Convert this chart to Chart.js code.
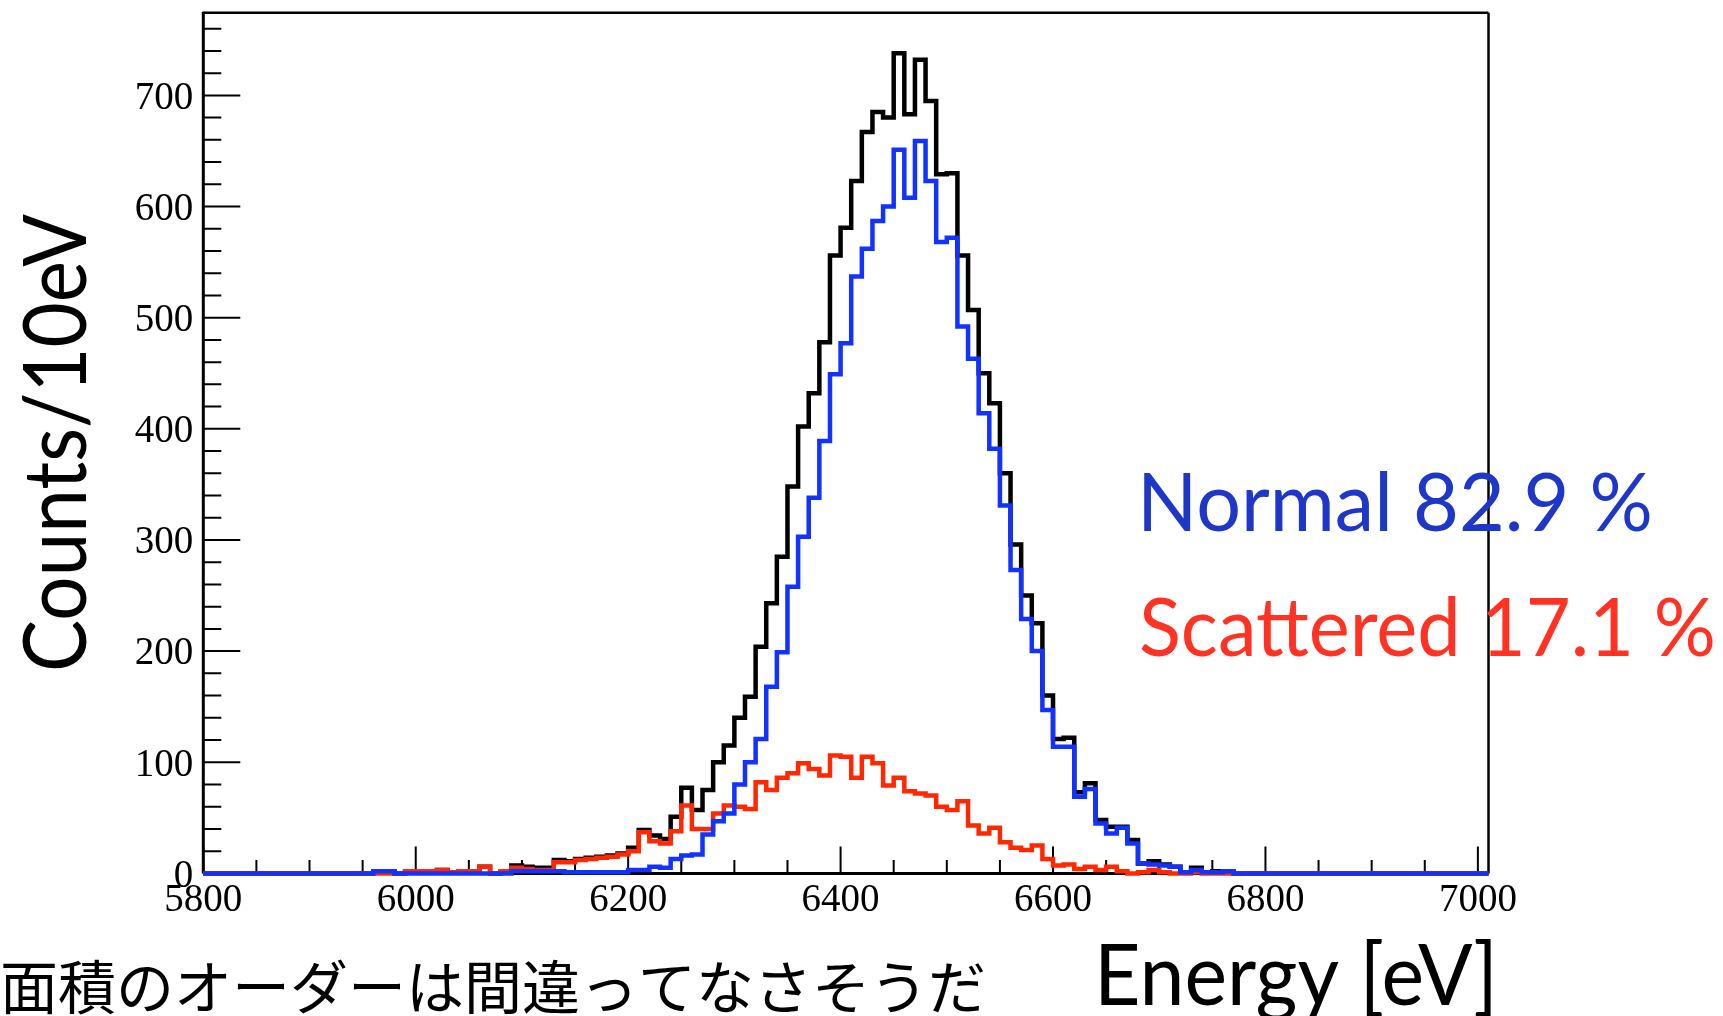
<!DOCTYPE html>
<html><head><meta charset="utf-8">
<script src="https://cdn.jsdelivr.net/npm/chart.js@4.4.1/dist/chart.umd.min.js"></script>
<style>html,body{margin:0;padding:0;background:#fff;overflow:hidden}canvas{display:block}</style>
</head><body>
<canvas id="c" width="1723" height="1016"></canvas>
<script>
// ---- data (10 eV bins starting at 5800 eV) ----
const binStart = 5800;
const binWidth = 10;
const totalCounts = [
  0,0,0,0,0,0,0,0,0,0,
  0,0,0,0,0,0,2,2,0,2,
  2,2,3,1,2,2,6,0,2,7,
  6,5,5,12,11,13,14,15,16,18,
  23,39,34,31,51,77,57,75,100,115,
  140,159,204,243,285,348,402,432,478,556,
  581,623,667,685,680,738,683,732,695,629,
  630,556,507,450,423,360,296,250,225,160,
  121,122,73,81,48,42,42,30,9,11,
  8,6,1,5,1,2,2,0,0,0,
  0,0,0,0,0,0,0,0,0,0,
  0,0,0,0,0,0,0,0,0,0,
  0
];
const normalCounts = [
  0,0,0,0,0,0,0,0,0,0,
  0,0,0,0,0,0,2,2,0,0,
  0,0,0,0,0,0,0,0,0,2,
  2,2,2,2,1,1,1,1,1,1,
  3,3,6,5,13,16,17,35,47,54,
  80,100,121,168,199,258,303,338,389,449,
  477,537,562,587,600,651,608,659,623,568,
  572,492,463,414,382,331,273,229,200,147,
  114,114,69,76,45,36,41,27,9,8,
  7,6,1,3,1,1,2,0,0,0,
  0,0,0,0,0,0,0,0,0,0,
  0,0,0,0,0,0,0,0,0,0,
  0
];
const scatteredCounts = [
  0,0,0,0,0,0,0,0,0,0,
  0,0,0,0,0,0,0,0,0,2,
  2,2,3,1,2,2,6,0,2,5,
  4,3,3,10,10,12,13,14,15,17,
  20,37,29,27,38,61,40,40,54,61,
  60,58,82,75,86,90,99,94,88,106,
  105,86,105,99,79,86,74,72,70,60,
  57,65,43,36,41,28,23,21,25,13,
  7,8,4,6,3,6,2,0,1,3,
  1,0,0,1,0,0,0,0,0,0,
  0,0,0,0,0,0,0,0,0,0,
  0,0,0,0,0,0,0,0,0,0,
  0
];
const xTickValues = [5800, 6000, 6200, 6400, 6600, 6800, 7000];
const yTickValues = [0, 100, 200, 300, 400, 500, 600, 700];
const legendLabels = ['Normal 82.9 %', 'Scattered 17.1 %'];
const xTitle = 'Energy [eV]';
const yTitle = 'Counts/10eV';
const noteText = '面積のオーダーは間違ってなさそうだ';

// ---- histogram outline points (bin low edges + closing edge) ----
function toSteps(vals) {
  const pts = vals.map((v, i) => ({ x: binStart + i * binWidth, y: v }));
  pts.push({ x: binStart + vals.length * binWidth, y: vals[vals.length - 1] });
  return pts;
}

const AREA = { left: 203.3, top: 12.7, right: 1488.5, bottom: 873.4 };
const W = 1723, H = 1016;

const framePlugin = {
  id: 'framePlugin',
  beforeDatasetsDraw(chart) {
    const { ctx, chartArea: a, scales: { x, y } } = chart;
    ctx.save();
    ctx.strokeStyle = '#000';
    ctx.lineCap = 'butt';
    ctx.lineWidth = 2;
    ctx.beginPath();
    for (let v = 0; v <= y.max; v += 20) {
      const py = y.getPixelForValue(v);
      const len = (v % 100 === 0) ? 37 : 18;
      ctx.moveTo(a.left, py); ctx.lineTo(a.left + len, py);
    }
    for (let v = binStart; v <= x.max; v += 50) {
      const px = x.getPixelForValue(v);
      const len = (v % 200 === 0) ? 27 : 13.5;
      ctx.moveTo(px, a.bottom); ctx.lineTo(px, a.bottom - len);
    }
    ctx.stroke();
    ctx.lineWidth = 2.5;
    ctx.beginPath();
    ctx.moveTo(a.left, a.top); ctx.lineTo(a.right, a.top);
    ctx.moveTo(a.right, a.top); ctx.lineTo(a.right, a.bottom);
    ctx.stroke();
    ctx.lineWidth = 3;
    ctx.beginPath();
    ctx.moveTo(a.left, a.top - 1); ctx.lineTo(a.left, a.bottom);
    ctx.moveTo(a.left, a.bottom); ctx.lineTo(a.right, a.bottom);
    ctx.stroke();
    ctx.restore();
  }
};

function fitText(ctx, text, opt) {
  const size = opt.cap / opt.capRatio;
  ctx.save();
  ctx.font = (opt.weight || 'normal') + ' ' + size + 'px ' + opt.family;
  ctx.fillStyle = opt.color;
  ctx.textBaseline = 'alphabetic';
  ctx.textAlign = 'left';
  const w = ctx.measureText(text).width;
  const sx = opt.width / w;
  ctx.translate(opt.x, opt.y);
  if (opt.rotate) ctx.rotate(opt.rotate);
  ctx.scale(sx, 1);
  ctx.fillText(text, 0, 0);
  ctx.restore();
}

const textPlugin = {
  id: 'textPlugin',
  afterDraw(chart) {
    const ctx = chart.ctx;
    const sans = '"Lato", "Open Sans", sans-serif';
    fitText(ctx, legendLabels[0], { family: sans, capRatio: 0.7165, cap: 58.5, width: 516, x: 1137, y: 531, color: '#1e37c8' });
    fitText(ctx, legendLabels[1], { family: sans, capRatio: 0.7165, cap: 58.5, width: 577, x: 1139, y: 656, color: '#ff3223' });
    fitText(ctx, xTitle, { family: sans, capRatio: 0.7165, cap: 60.5, width: 404, x: 1094, y: 1005, color: '#000' });
    fitText(ctx, yTitle, { family: sans, capRatio: 0.7165, cap: 62, width: 458, x: 86, y: 672, color: '#000', rotate: -Math.PI / 2 });
    fitText(ctx, noteText, { family: '"Noto Sans CJK JP", sans-serif', capRatio: 0.8, cap: 46.4, width: 986, x: 0, y: 1009, color: '#000' });
  }
};

const mk = (label, vals, color, order) => ({
  label, data: toSteps(vals), borderColor: color, borderWidth: 4.5,
  stepped: 'before', pointRadius: 0, fill: false, tension: 0,
  borderJoinStyle: 'miter', borderCapStyle: 'butt', clip: false, order
});

new Chart(document.getElementById('c'), {
  type: 'line',
  data: {
    datasets: [
      mk('Total', totalCounts, '#000000', 3),
      mk('Scattered', scatteredCounts, '#ff2800', 2),
      mk('Normal', normalCounts, '#1232ff', 1)
    ]
  },
  options: {
    responsive: false,
    devicePixelRatio: 1,
    animation: false,
    events: [],
    layout: { padding: { left: 0, top: AREA.top, right: W - AREA.right, bottom: 0 } },
    plugins: { legend: { display: false }, tooltip: { enabled: false }, title: { display: false } },
    scales: {
      x: {
        type: 'linear', position: 'bottom',
        min: binStart, max: binStart + totalCounts.length * binWidth,
        grid: { display: false, drawTicks: false },
        border: { display: false },
        ticks: { color: '#000', padding: 4, maxRotation: 0, autoSkip: false,
                 callback: (v) => String(v),
                 font: { family: '"Liberation Serif", "Times New Roman", serif', size: 39 } },
        afterBuildTicks: (s) => { s.ticks = xTickValues.map(v => ({ value: v })); },
        afterFit: (s) => { s.height = H - AREA.bottom; s.paddingLeft = 0; s.paddingRight = 0; }
      },
      y: {
        type: 'linear', position: 'left',
        min: 0, max: 774.4,
        grid: { display: false, drawTicks: false },
        border: { display: false },
        ticks: { color: '#000', padding: 10, autoSkip: false, labelOffset: 3,
                 callback: (v) => String(v),
                 font: { family: '"Liberation Serif", "Times New Roman", serif', size: 39 } },
        afterBuildTicks: (s) => { s.ticks = yTickValues.map(v => ({ value: v })); },
        afterFit: (s) => { s.width = AREA.left; s.paddingTop = 0; s.paddingBottom = 0; }
      }
    }
  },
  plugins: [framePlugin, textPlugin]
});
</script>
</body></html>
